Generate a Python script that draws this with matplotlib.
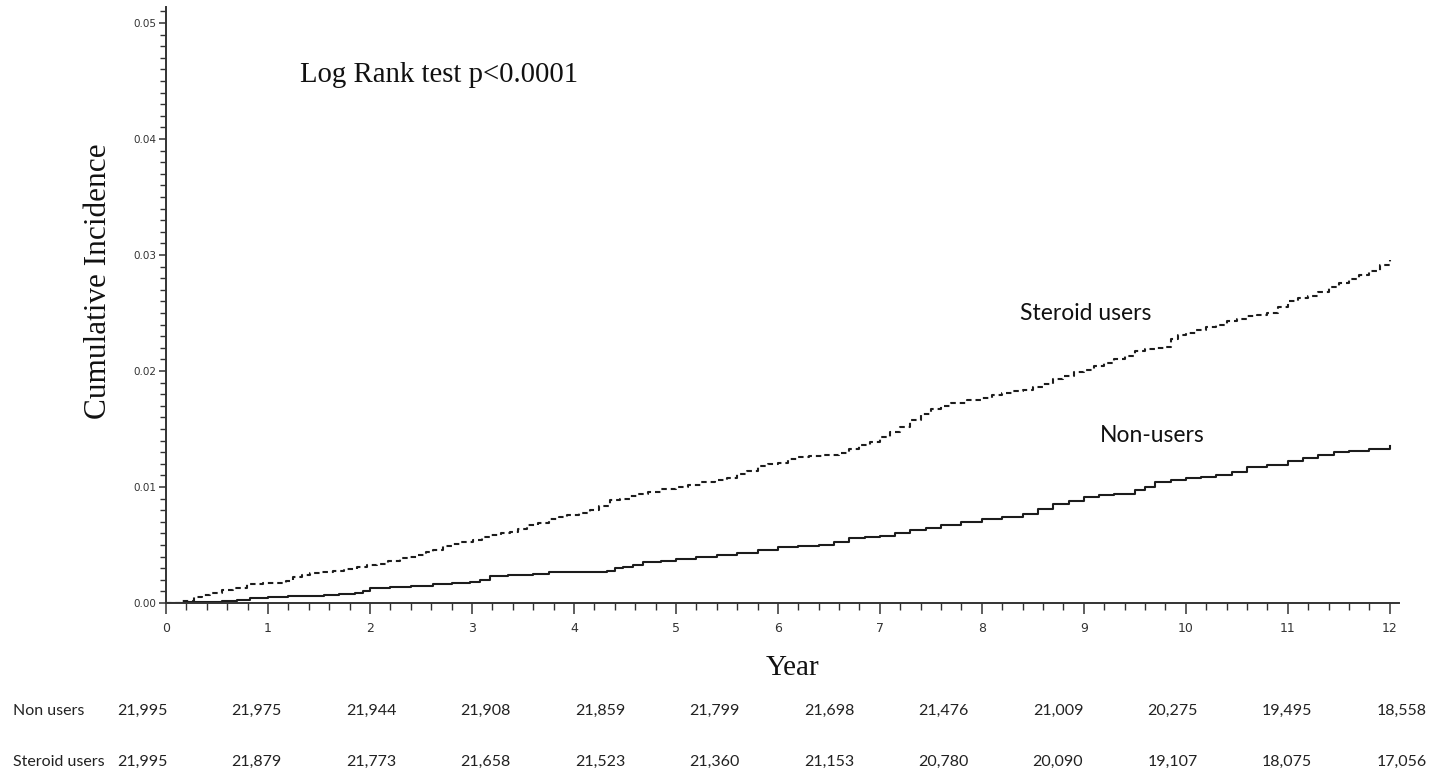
import matplotlib
matplotlib.use("Agg")
import matplotlib.pyplot as plt
from matplotlib.ticker import MultipleLocator, FormatStrFormatter

# Cumulative incidence step curves (year, cumulative incidence)
steroid_years = [0.0, 0.15, 0.27, 0.35, 0.43, 0.55, 0.66, 0.79, 0.95, 1.18, 1.25,
                 1.33, 1.41, 1.52, 1.64, 1.75, 1.87, 1.97, 2.07, 2.18, 2.29, 2.38,
                 2.46, 2.55, 2.62, 2.72, 2.80, 2.88, 3.01, 3.10, 3.18, 3.28, 3.37,
                 3.45, 3.54, 3.65, 3.76, 3.85, 3.93, 4.05, 4.16, 4.25, 4.35, 4.45,
                 4.55, 4.63, 4.73, 4.85, 5.0, 5.12, 5.25, 5.38, 5.5, 5.6, 5.7, 5.8,
                 5.9, 6.0, 6.1, 6.2, 6.3, 6.45, 6.6, 6.7, 6.8, 6.9, 7.0, 7.1, 7.2,
                 7.3, 7.4, 7.5, 7.6, 7.7, 7.85, 8.0, 8.1, 8.2, 8.3, 8.4, 8.5, 8.6,
                 8.7, 8.8, 8.9, 9.0, 9.1, 9.2, 9.3, 9.4, 9.5, 9.6, 9.7, 9.8, 9.85,
                 9.92, 10.0, 10.1, 10.2, 10.3, 10.4, 10.5, 10.6, 10.7, 10.8, 10.9,
                 11.0, 11.1, 11.2, 11.3, 11.4, 11.5, 11.6, 11.7, 11.8, 11.9, 12.0]
steroid_inc = [0.0, 0.0002, 0.0005, 0.0007, 0.0009, 0.0011, 0.0013, 0.0016, 0.0017,
               0.0019, 0.0022, 0.0024, 0.0026, 0.0027, 0.0028, 0.0029, 0.0031,
               0.0033, 0.0034, 0.0036, 0.0039, 0.0040, 0.0041, 0.0044, 0.0046,
               0.0049, 0.0051, 0.0053, 0.0054, 0.0057, 0.0059, 0.0060, 0.0061,
               0.0064, 0.0067, 0.0069, 0.0072, 0.0074, 0.0076, 0.0078, 0.0080,
               0.0084, 0.0089, 0.0090, 0.0092, 0.0094, 0.0096, 0.0098, 0.0100,
               0.0102, 0.0104, 0.0106, 0.0108, 0.0111, 0.0114, 0.0118, 0.0120,
               0.0121, 0.0124, 0.0126, 0.0127, 0.0128, 0.0129, 0.0133, 0.0136,
               0.0139, 0.0143, 0.0147, 0.0152, 0.0158, 0.0163, 0.0167, 0.0170,
               0.0172, 0.0175, 0.0177, 0.0179, 0.0181, 0.0183, 0.0184, 0.0186,
               0.0189, 0.0193, 0.0196, 0.0199, 0.0201, 0.0204, 0.0207, 0.0210,
               0.0213, 0.0217, 0.0219, 0.0220, 0.0221, 0.0228, 0.0231, 0.0233,
               0.0235, 0.0238, 0.0240, 0.0243, 0.0245, 0.0247, 0.0248, 0.0250,
               0.0255, 0.0260, 0.0263, 0.0265, 0.0268, 0.0272, 0.0276, 0.0279,
               0.0283, 0.0286, 0.0291, 0.0296]

nonuser_years = [0.0, 0.2, 0.33, 0.55, 0.7, 0.82, 1.0, 1.2, 1.55, 1.7, 1.85, 1.93,
                 2.0, 2.2, 2.4, 2.62, 2.8, 2.98, 3.08, 3.18, 3.35, 3.6, 3.76, 4.32,
                 4.40, 4.48, 4.58, 4.68, 4.85, 5.0, 5.2, 5.4, 5.6, 5.8, 6.0, 6.2,
                 6.4, 6.55, 6.7, 6.85, 7.0, 7.15, 7.3, 7.45, 7.6, 7.8, 8.0, 8.2,
                 8.4, 8.55, 8.7, 8.85, 9.0, 9.15, 9.3, 9.5, 9.6, 9.7, 9.85, 10.0,
                 10.15, 10.3, 10.45, 10.6, 10.8, 11.0, 11.15, 11.3, 11.45, 11.6,
                 11.8, 12.0]
nonuser_inc = [0.0, 0.00005, 0.0001, 0.0002, 0.0003, 0.0004, 0.0005, 0.0006,
               0.0007, 0.0008, 0.0009, 0.0010, 0.0013, 0.0014, 0.0015, 0.0016,
               0.0017, 0.0018, 0.0020, 0.0023, 0.0024, 0.0025, 0.0027, 0.0028,
               0.0030, 0.0031, 0.0033, 0.0035, 0.0036, 0.0038, 0.0040, 0.0041,
               0.0043, 0.0046, 0.0048, 0.0049, 0.0050, 0.0053, 0.0056, 0.0057,
               0.0058, 0.0060, 0.0063, 0.0065, 0.0067, 0.0070, 0.0072, 0.0074,
               0.0077, 0.0081, 0.0085, 0.0088, 0.0091, 0.0093, 0.0094, 0.0097,
               0.0100, 0.0104, 0.0106, 0.0108, 0.0109, 0.0110, 0.0113, 0.0117,
               0.0119, 0.0122, 0.0125, 0.0128, 0.0130, 0.0131, 0.0133, 0.0135]

# Number at risk table
risk_groups = ["Non users", "Steroid users"]
risk_nonusers = ["21,995", "21,975", "21,944", "21,908", "21,859", "21,799",
                 "21,698", "21,476", "21,009", "20,275", "19,495", "18,558"]
risk_steroid = ["21,995", "21,879", "21,773", "21,658", "21,523", "21,360",
                "21,153", "20,780", "20,090", "19,107", "18,075", "17,056"]

W, H = 1445, 774
fig = plt.figure(figsize=(W / 100, H / 100), dpi=100)
fig.patch.set_facecolor("white")

ax = fig.add_axes([166 / W, 1 - 603 / H, (1399 - 166) / W, (603 - 7) / H])
ax.set_xlim(0, 12.09)
ax.set_ylim(0, 0.05138)

line_col = "#1c1c1c"
ax.plot(steroid_years, steroid_inc, drawstyle="steps-post", color=line_col,
        lw=1.5, linestyle=(0, (2.6, 1.9)))
ax.plot(nonuser_years, nonuser_inc, drawstyle="steps-post", color=line_col, lw=1.5)

for side in ("top", "right"):
    ax.spines[side].set_visible(False)
for side in ("left", "bottom"):
    ax.spines[side].set_color("#333333")
    ax.spines[side].set_linewidth(1.4)

ax.xaxis.set_major_locator(MultipleLocator(1))
ax.xaxis.set_minor_locator(MultipleLocator(0.2))
ax.yaxis.set_major_locator(MultipleLocator(0.01))
ax.yaxis.set_minor_locator(MultipleLocator(0.001))
ax.yaxis.set_major_formatter(FormatStrFormatter("%.2f"))

ax.tick_params(axis="x", which="major", length=8, width=1.1, color="#333333",
               labelsize=9, labelcolor="#333333", pad=6)
ax.tick_params(axis="x", which="minor", length=5, width=1.0, color="#333333")
ax.tick_params(axis="y", which="major", length=5, width=1.1, color="#333333",
               labelsize=7.5, labelcolor="#333333", pad=2)
ax.tick_params(axis="y", which="minor", length=4, width=1.0, color="#333333")

serif = "Liberation Serif"
sans = "Lato"

fig.text(99 / W, 1 - 281 / H, "Cumulative Incidence", rotation=90,
         ha="center", va="center", fontsize=22.5, family=serif, color="#111111")
fig.text(793 / W, 1 - 668 / H, "Year", ha="center", va="center",
         fontsize=21, family=serif, color="#111111")
fig.text(300 / W, 1 - 75 / H, "Log Rank test p<0.0001", ha="left", va="center",
         fontsize=20.7, family=serif, color="#111111")

fig.text(1020 / W, 1 - 313 / H, "Steroid users", ha="left", va="center",
         fontsize=16.5, family=sans, color="#111111")
fig.text(1100 / W, 1 - 435 / H, "Non-users", ha="left", va="center",
         fontsize=16.5, family=sans, color="#111111")

row_y = [711, 762]
col_x0, col_dx = 142, 114.5
for label, vals, yy in zip(risk_groups, [risk_nonusers, risk_steroid], row_y):
    fig.text(13 / W, 1 - yy / H, label, ha="left", va="center",
             fontsize=11.5, family=sans, color="#222222")
    for i, v in enumerate(vals):
        fig.text((col_x0 + i * col_dx) / W, 1 - yy / H, v, ha="center",
                 va="center", fontsize=11.5, family=sans, color="#222222")

fig.savefig("out.png", dpi=100, facecolor="white")
